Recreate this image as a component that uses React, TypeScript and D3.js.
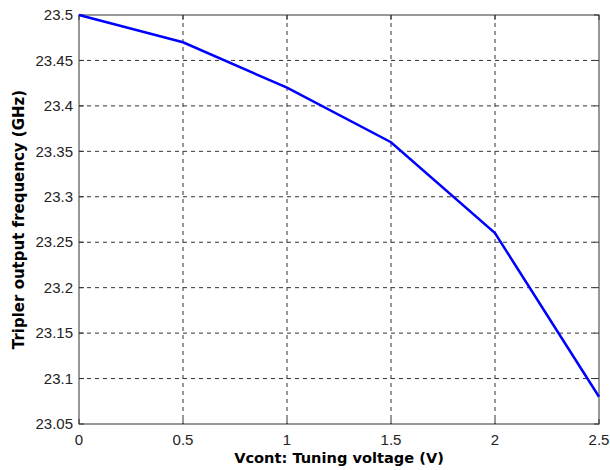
import React, { useRef, useEffect } from 'react';
import * as d3 from 'd3';

const voltages = [0, 0.5, 1, 1.5, 2, 2.5];
const frequencies = [23.5, 23.47, 23.42, 23.36, 23.26, 23.08];
const xTicks = [0, 0.5, 1, 1.5, 2, 2.5];
const yTicks = [23.05, 23.1, 23.15, 23.2, 23.25, 23.3, 23.35, 23.4, 23.45, 23.5];

const App = () => {
  const svgRef = useRef<SVGSVGElement>(null);

  useEffect(() => {
    const W = 610, H = 470;
    const margin = { top: 15, right: 11, bottom: 46, left: 79 };
    const width = W - margin.left - margin.right;
    const height = H - margin.top - margin.bottom;
    const tickFont = 'Liberation Sans, Arial, sans-serif';
    const labelFont = 'DejaVu Sans, Verdana, sans-serif';

    const root = d3.select(svgRef.current);
    root.selectAll('*').remove();
    root.attr('width', W).attr('height', H);
    root.append('rect').attr('width', W).attr('height', H).attr('fill', '#fff');

    const svg = root.append('g').attr('transform', `translate(${margin.left},${margin.top})`);

    const x = d3.scaleLinear().domain([0, 2.5]).range([0, width]);
    const y = d3.scaleLinear().domain([23.05, 23.5]).range([height, 0]);

    // grid
    svg.selectAll('.gx').data(xTicks.slice(1, -1)).enter().append('line')
      .attr('x1', d => x(d)).attr('x2', d => x(d)).attr('y1', 0).attr('y2', height)
      .attr('stroke', '#333').attr('stroke-width', 1).attr('stroke-dasharray', '4,4');
    svg.selectAll('.gy').data(yTicks.slice(1, -1)).enter().append('line')
      .attr('y1', d => y(d)).attr('y2', d => y(d)).attr('x1', 0).attr('x2', width)
      .attr('stroke', '#333').attr('stroke-width', 1).attr('stroke-dasharray', '4,4');

    // box
    svg.append('rect').attr('width', width).attr('height', height)
      .attr('fill', 'none').attr('stroke', '#333').attr('stroke-width', 1);

    // ticks inside
    xTicks.forEach(t => {
      svg.append('line').attr('x1', x(t)).attr('x2', x(t)).attr('y1', height).attr('y2', height - 5).attr('stroke', '#333');
      svg.append('line').attr('x1', x(t)).attr('x2', x(t)).attr('y1', 0).attr('y2', 5).attr('stroke', '#333');
    });
    yTicks.forEach(t => {
      svg.append('line').attr('y1', y(t)).attr('y2', y(t)).attr('x1', 0).attr('x2', 5).attr('stroke', '#333');
      svg.append('line').attr('y1', y(t)).attr('y2', y(t)).attr('x1', width).attr('x2', width - 5).attr('stroke', '#333');
    });

    // tick labels
    svg.selectAll('.xl').data(xTicks).enter().append('text')
      .attr('x', d => x(d)).attr('y', height + 21)
      .attr('text-anchor', 'middle').attr('font-family', tickFont)
      .attr('font-size', '15px').attr('fill', '#222').text(d => String(d));
    svg.selectAll('.yl').data(yTicks).enter().append('text')
      .attr('x', -6).attr('y', d => y(d)).attr('dy', '0.35em')
      .attr('text-anchor', 'end').attr('font-family', tickFont)
      .attr('font-size', '15px').attr('fill', '#222').text(d => String(+d.toFixed(2)));

    // line
    const line = d3.line<number>().x((d, i) => x(voltages[i])).y(d => y(d));
    svg.append('path').datum(frequencies)
      .attr('fill', 'none').attr('stroke', '#0000ff').attr('stroke-width', 2.5).attr('d', line);

    // axis labels
    svg.append('text').attr('x', width / 2).attr('y', height + 39)
      .attr('text-anchor', 'middle').attr('font-family', labelFont)
      .attr('font-size', '14.6px').attr('font-weight', 'bold').text('Vcont: Tuning voltage (V)');
    svg.append('text').attr('transform', `translate(${-55},${height / 2}) rotate(-90)`)
      .attr('text-anchor', 'middle').attr('font-family', labelFont)
      .attr('font-size', '15px').attr('font-weight', 'bold').text('Tripler output frequency (GHz)');
  }, []);

  return <svg ref={svgRef} style={{ position: 'absolute', left: 0, top: 0 }}></svg>;
};

export default App;
